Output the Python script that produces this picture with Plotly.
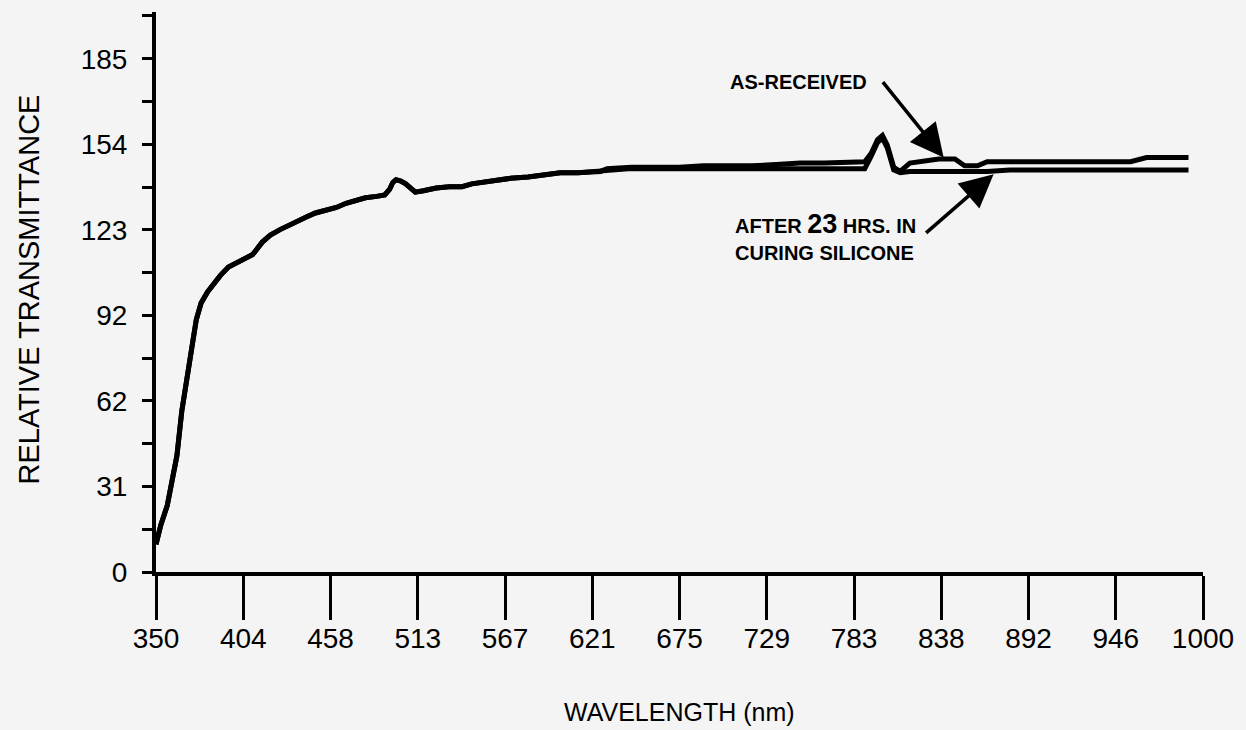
import plotly.graph_objects as go

# ---- data ----
wavelength = [350, 353, 357, 360, 363, 366, 369, 372, 375, 378, 382, 386, 390, 395, 400,
              405, 410, 416, 421, 427, 432, 437, 443, 449, 455, 462, 468, 474, 480, 487,
              492, 495, 497, 499, 502, 505, 508, 511, 516, 524, 532, 540, 546, 552, 560,
              570, 581, 590, 601, 612, 626, 630, 645, 660, 675, 690, 705, 720, 735, 750,
              765, 780, 790, 794, 798, 801, 804, 808, 812, 818, 826, 836, 846, 852, 860,
              866, 880, 895, 910, 925, 940, 955, 965, 975, 985, 991]

as_received = [10, 17, 24, 33, 42, 58, 68, 80, 91, 97, 101, 104, 107, 110, 111.5,
               112.5, 114.5, 119, 121.5, 123.5, 125, 126.5, 128, 129.5, 130.5, 131.5, 133, 134, 135, 135.5,
               136, 138, 140.5, 141.5, 141, 140, 138.5, 137, 137.5, 138.5, 139, 139, 140, 140.5, 141.5,
               142, 142.5, 143, 144, 144, 144.5, 145.5, 146, 146, 146, 146.5, 146.5, 146.5, 147, 147.5,
               147.5, 148, 148, 151, 156, 157.5, 154, 146, 144.5, 147.5, 148, 149, 149, 146.5, 146.5,
               148, 148, 148, 148, 148, 148, 148, 149.5, 149.5, 149.5, 149.5]

after_23h = [10, 17, 24, 33, 42, 58, 68, 80, 91, 97, 101, 104, 107, 110, 111.5,
             112.5, 114.5, 119, 121.5, 123.5, 125, 126.5, 128, 129.5, 130.5, 131.5, 133, 134, 135, 135.5,
             136, 138, 140.5, 141.5, 141, 140, 138.5, 137, 137.5, 138.5, 139, 139, 140, 140.5, 141.5,
             142, 142.5, 143, 144, 144, 144.5, 145, 145.5, 145.5, 145.5, 145.5, 145.5, 145.5, 145.5, 145.5,
             145.5, 145.5, 145.5, 150, 155, 156.5, 153, 145, 144, 144.5, 144.5, 144.5, 144.5, 144.5, 144.5,
             144.5, 145, 145, 145, 145, 145, 145, 145, 145, 145, 145]

x_tick_labels = ["350", "404", "458", "513", "567", "621", "675", "729", "783", "838", "892", "946", "1000"]
y_tick_labels = ["0", "", "31", "", "62", "", "92", "", "123", "", "154", "", "185", ""]

x_min, x_max = 350, 1000
y_step = 216 / 14  # half of a labelled interval
x_tickvals = [x_min + i * (x_max - x_min) / 12 for i in range(13)]
y_tickvals = [i * y_step for i in range(len(y_tick_labels))]

FONT = "Liberation Sans, Arial, Helvetica, sans-serif"
BG = "#f4f4f4"

fig = go.Figure()
fig.add_trace(go.Scatter(x=wavelength, y=as_received, mode="lines",
                         line=dict(color="black", width=5), name="AS-RECEIVED",
                         showlegend=False))
fig.add_trace(go.Scatter(x=wavelength, y=after_23h, mode="lines",
                         line=dict(color="black", width=5), name="AFTER 23 HRS. IN CURING SILICONE",
                         showlegend=False))

fig.update_layout(
    width=1246, height=730,
    margin=dict(l=156, r=39, t=12, b=158),
    paper_bgcolor=BG, plot_bgcolor=BG,
    font=dict(family=FONT, color="black", size=28),
    xaxis=dict(range=[x_min, x_max], tickmode="array", tickvals=x_tickvals, ticktext=x_tick_labels,
               showgrid=False, zeroline=False, showline=True, linecolor="black", linewidth=4,
               ticks="outside", ticklen=44, tickwidth=3, tickcolor="black",
               ticklabelstandoff=-6,
               tickfont=dict(size=28, family=FONT)),
    yaxis=dict(range=[0, 202], tickmode="array", tickvals=y_tickvals, ticktext=y_tick_labels,
               showgrid=False, zeroline=False, showline=True, linecolor="black", linewidth=4,
               ticks="outside", ticklen=10, tickwidth=3, tickcolor="black",
               ticklabelstandoff=9,
               tickfont=dict(size=28, family=FONT)),
)

# axis titles
fig.add_annotation(text="RELATIVE TRANSMITTANCE", xref="paper", yref="paper",
                   x=-0.121, y=0.505, textangle=-90, showarrow=False,
                   font=dict(size=29, family=FONT), xanchor="center", yanchor="middle")
fig.add_annotation(text="WAVELENGTH (nm)", xref="paper", yref="paper",
                   x=0.5, y=-0.25, showarrow=False,
                   font=dict(size=25, family=FONT), xanchor="center", yanchor="middle")

# labels
fig.add_annotation(text="<b>AS-RECEIVED</b>", x=705, y=176.8, xref="x", yref="y",
                   showarrow=False, xanchor="left", yanchor="middle",
                   font=dict(size=20, family=FONT))
fig.add_annotation(text="<b>AFTER <span style='font-size:27px'>23</span> HRS. IN</b>", x=708, y=125.5,
                   xref="x", yref="y", showarrow=False, xanchor="left", yanchor="middle",
                   font=dict(size=20, family=FONT))
fig.add_annotation(text="<b>CURING SILICONE</b>", x=708, y=115.1, xref="x", yref="y",
                   showarrow=False, xanchor="left", yanchor="middle",
                   font=dict(size=20, family=FONT))

# arrows
fig.add_annotation(text="", x=839, y=149.5, xref="x", yref="y", ax=-62, ay=-77,
                   showarrow=True, arrowhead=2, arrowsize=1.9, arrowwidth=3.5, arrowcolor="black")
fig.add_annotation(text="", x=870, y=143.5, xref="x", yref="y", ax=-69, ay=60,
                   showarrow=True, arrowhead=2, arrowsize=1.9, arrowwidth=3.5, arrowcolor="black")

fig.write_html("out.html", config={"displayModeBar": False},
               post_script="document.body.style.margin='0';")
